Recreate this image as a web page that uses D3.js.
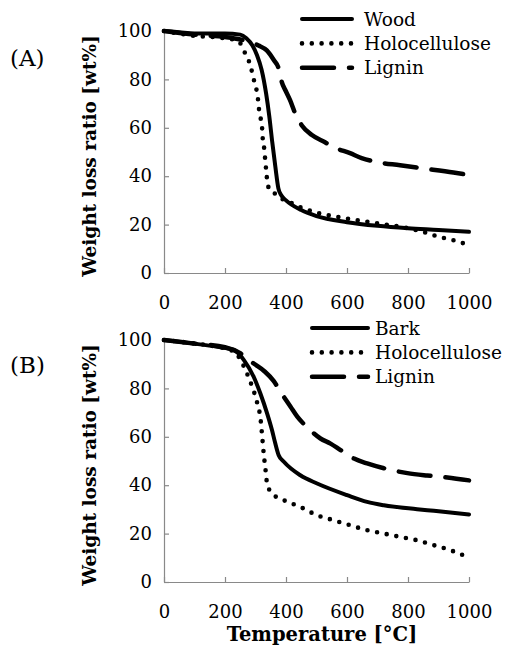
<!DOCTYPE html>
<html>
<head>
<meta charset="utf-8">
<script src="https://cdn.jsdelivr.net/npm/d3@7"></script>
<style>
  body { margin: 0; background: #fff; }
  svg text { font-family: "DejaVu Serif", serif; fill: #000; }
</style>
</head>
<body>
<svg id="chart" width="507" height="653"></svg>
<script>
const xTicks = [0, 200, 400, 600, 800, 1000];
const yTicks = [0, 20, 40, 60, 80, 100];

// (A) wood sample
const woodT = [0, 50, 100, 200, 250, 270, 290, 305, 320, 335, 345, 355, 365, 375, 385, 400, 450, 500, 600, 700, 800, 900, 1000];
const woodW = [100, 99.5, 99, 99, 98.5, 97, 94, 90, 84, 74, 65, 54, 44, 35, 32, 30, 26, 23.5, 21, 19.5, 18.5, 17.8, 17];
const holoAT = [0, 100, 200, 240, 255, 270, 283, 293, 301, 307, 313, 321, 324, 329, 332, 335, 339, 348, 362, 380, 400, 450, 500, 600, 700, 800, 850, 900, 950, 1000];
const holoAW = [100, 98, 97, 96, 94, 89.5, 86, 80.5, 77, 73, 66, 61, 55, 51, 46.5, 42.5, 37.5, 34, 33, 31, 30, 27, 25, 22.5, 20.5, 18.5, 17, 15, 13.5, 11.5];
const ligAT = [0, 100, 200, 250, 280, 310, 337, 360, 376, 386, 400, 413, 430, 452, 485, 528, 556, 610, 648, 692, 774, 850, 949, 1000];
const ligAW = [100, 98.5, 97.5, 96.5, 95.5, 94, 92, 88, 84.5, 79, 75, 71.5, 66, 61, 57, 54, 52, 49.5, 47.5, 46, 44.5, 43.2, 41.5, 40.5];

// (B) bark sample
const barkT = [0, 92, 174, 229, 262, 294, 316, 338, 354, 365, 376, 393, 447, 502, 600, 666, 721, 830, 885, 1000];
const barkW = [100, 98.6, 97.2, 95.9, 91.7, 84.8, 77.9, 69.7, 62.8, 57.2, 52.4, 49.7, 44.1, 40.7, 35.9, 33.1, 31.7, 30.1, 29.4, 27.9];
const holoBT = [0, 97, 174, 229, 272, 289, 306, 317, 322, 327, 333, 338, 354, 393, 447, 502, 557, 612, 666, 721, 776, 831, 885, 940, 995];
const holoBW = [100, 98.6, 97.2, 95.2, 86.2, 80.7, 73.8, 66.9, 60, 53, 46.2, 40.7, 36.6, 33.8, 31, 27.6, 25.5, 23.4, 21.4, 20, 18.6, 17.2, 15.2, 13.1, 10.3];
const ligBT = [0, 100, 200, 250, 294, 330, 360, 382, 415, 437, 469, 513, 546, 579, 623, 666, 721, 798, 863, 929, 1000];
const ligBW = [100, 98.5, 97, 94.5, 90.3, 87, 83, 78.6, 72.4, 68.3, 64, 59.3, 57.2, 54.5, 51, 49, 47, 45, 44, 43.2, 42];

const styles = {
  solid: { width: 4, dash: null },
  dot: { width: 4.6, dash: "0,9.8" },
  dash: { width: 4.5, dash: "32,15" }
};

const zip = (ts, ws) => ts.map((t, i) => ({ t, w: ws[i] }));

const svg = d3.select("#chart");

const renderPanel = (top, props) => {
  const { label, labelY, series, legendX, textX } = props;
  const x = d3.scaleLinear().domain([0, 1000]).range([164, 469]);
  const y = d3.scaleLinear().domain([0, 100]).range([top + 242, top]);
  const g = svg.append("g");

  const yAxis = g.append("g")
    .attr("transform", `translate(${x(0)},0)`)
    .call(d3.axisLeft(y).tickValues(yTicks).tickSize(-5).tickSizeOuter(0).tickPadding(12));
  const xAxis = g.append("g")
    .attr("transform", `translate(0,${y(0)})`)
    .call(d3.axisBottom(x).tickValues(xTicks).tickFormat(d3.format("d"))
      .tickSize(-5).tickSizeOuter(0).tickPadding(23));
  [yAxis, xAxis].forEach(a => {
    a.attr("font-family", null);
    a.selectAll("path, line").attr("stroke", "#898989").attr("stroke-width", 1.2);
    a.selectAll("text").attr("font-size", 18);
  });

  const line = d3.line()
    .x(d => x(d.t))
    .y(d => y(d.w))
    .curve(d3.curveMonotoneX);

  series.forEach(s => {
    const st = styles[s.style];
    g.append("path")
      .datum(zip(s.t, s.w))
      .attr("d", line)
      .attr("fill", "none")
      .attr("stroke", "#000")
      .attr("stroke-width", st.width)
      .attr("stroke-linecap", "round")
      .attr("stroke-linejoin", "round")
      .attr("stroke-dasharray", st.dash);
  });

  // legend
  series.forEach((s, i) => {
    const st = styles[s.style];
    const ly = top - 12 + i * 24.4;
    g.append("line")
      .attr("x1", legendX[0]).attr("x2", legendX[1])
      .attr("y1", ly).attr("y2", ly)
      .attr("stroke", "#000")
      .attr("stroke-width", st.width)
      .attr("stroke-linecap", "round")
      .attr("stroke-dasharray", st.dash);
    g.append("text")
      .attr("x", textX)
      .attr("y", ly)
      .attr("dy", "0.36em")
      .attr("font-size", 18.5)
      .text(s.name);
  });

  g.append("text")
    .attr("x", 10)
    .attr("y", labelY)
    .attr("font-size", 23)
    .text(label);

  g.append("text")
    .attr("transform", `translate(90,${top + 125}) rotate(-90)`)
    .attr("text-anchor", "middle")
    .attr("dy", "0.35em")
    .attr("font-size", 18.5)
    .attr("font-weight", "bold")
    .text("Weight loss ratio [wt%]");
};

renderPanel(31, {
  label: "(A)", labelY: 66,
  legendX: [302, 352], textX: 364,
  series: [
    { name: "Wood", t: woodT, w: woodW, style: "solid" },
    { name: "Holocellulose", t: holoAT, w: holoAW, style: "dot" },
    { name: "Lignin", t: ligAT, w: ligAW, style: "dash" }
  ]
});

renderPanel(340, {
  label: "(B)", labelY: 373,
  legendX: [312, 368], textX: 375,
  series: [
    { name: "Bark", t: barkT, w: barkW, style: "solid" },
    { name: "Holocellulose", t: holoBT, w: holoBW, style: "dot" },
    { name: "Lignin", t: ligBT, w: ligBW, style: "dash" }
  ]
});

svg.append("text")
  .attr("x", 322)
  .attr("y", 641)
  .attr("text-anchor", "middle")
  .attr("font-size", 19.5)
  .attr("font-weight", "bold")
  .text("Temperature [°C]");
</script>
</body>
</html>
